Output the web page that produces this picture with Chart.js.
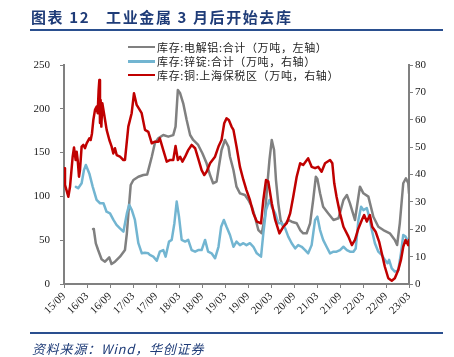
<!DOCTYPE html>
<html><head><meta charset="utf-8">
<script src="https://cdn.jsdelivr.net/npm/chart.js@4/dist/chart.umd.min.js"></script>
<style>
body{margin:0;background:#fff;}
#wrap{position:relative;width:454px;height:357px;overflow:hidden;}
#c{position:absolute;left:0;top:0;}
.abs{position:absolute;white-space:nowrap;}
.title{font-family:"Noto Sans CJK SC";font-weight:bold;font-size:15px;line-height:15px;color:#1f3c78;letter-spacing:1.6px;}
.rule{background:#2a4f8f;height:1.5px;left:30px;width:413px;}
.lg{font-family:"Noto Sans CJK SC";font-size:11px;line-height:14px;color:#222;letter-spacing:0.65px;}
.ln{height:2.5px;width:27px;left:128px;}
.foot{font-family:"Noto Sans CJK SC";font-style:italic;font-size:13px;line-height:14px;color:#1f3c78;letter-spacing:0.8px;}
</style></head>
<body>
<div id="wrap">
<canvas id="c" width="454" height="357" style="width:454px;height:357px"></canvas>
<div class="abs title" style="left:31px;top:9px;">图表 12<span style="display:inline-block;width:16px"></span>工业金属 3 月后开始去库</div>
<div class="abs rule" style="top:29px;"></div>
<div class="abs ln" style="top:45.5px;background:#808080"></div>
<div class="abs lg" style="left:157px;top:40px;">库存:电解铝:合计（万吨，左轴）</div>
<div class="abs ln" style="top:60px;background:#72b5d1"></div>
<div class="abs lg" style="left:157px;top:54px;">库存:锌锭:合计（万吨，右轴）</div>
<div class="abs ln" style="top:73.5px;background:#c00000"></div>
<div class="abs lg" style="left:157px;top:67.5px;">库存:铜:上海保税区（万吨，右轴）</div>
<div class="abs rule" style="top:332px;"></div>
<div class="abs foot" style="left:32px;top:342px;">资料来源：Wind，华创证券</div>
</div>
<script>
// x positions are months since 2015-09
const xTickLabels = ['15/09','16/03','16/09','17/03','17/09','18/03','18/09','19/03','19/09','20/03','20/09','21/03','21/09','22/03','22/09','23/03'];

const alX = [7.6,7.8,8.3,8.9,9.8,10.7,11.8,12.4,13.3,14.6,15.9,16.4,16.8,17.4,18.1,19.4,20.7,21.7,22.0,22.9,23.7,24.6,25.9,27.2,28.5,29.1,29.7,30.3,31.1,32.0,32.9,33.7,35.0,36.1,37.2,38.1,38.9,39.8,40.4,41.1,42.0,42.9,43.3,44.2,45.0,45.9,47.2,48.1,49.0,49.8,50.7,51.6,52.4,53.0,53.6,54.2,54.8,55.3,55.9,56.5,57.2,58.5,59.4,60.7,61.6,62.4,63.3,64.2,65.0,65.7,66.1,66.8,67.6,68.9,70.3,71.6,72.9,73.8,74.6,75.9,77.2,78.1,79.4,80.7,82.0,83.3,85.0,86.3,86.9,87.6,88.5,89.2,89.8,90.0];
const alY = [62.8,61.6,46.4,38.8,28.2,25.5,30.5,22.8,25.5,31.2,38.8,57.9,80.7,113,118.7,122.5,124.4,125,130,145.3,160.6,166.3,170.1,168.2,170,179.6,221.5,217.7,206.3,187.2,170.1,164.4,158.7,149.2,137.8,124.4,115,116.8,133.9,153,164.4,156.7,145.3,130.1,111.1,103.5,101.6,95.9,88.2,76.8,61.6,57.9,76.8,111.1,141.6,164.4,153,118.7,92.1,73.1,65.4,73.1,71.1,69.3,61.6,57.9,57.9,69.3,95.9,122.5,120,103.5,88.2,80.7,73.1,75,95.9,101.6,92.1,73.1,111.1,103.5,99.7,76.8,65.4,61.6,57.9,50.2,44.5,69.3,115,120.7,115,103.5];

const znX = [3.1,3.7,4.6,5.2,5.7,6.6,7.5,8.5,9.4,10.3,11.1,12.0,12.9,13.7,14.6,15.5,16.4,17.0,17.7,18.5,19.4,20.3,21.1,22.0,22.4,23.3,24.2,25.0,25.9,26.5,27.4,28.1,28.8,29.4,30.0,30.7,31.6,32.4,33.3,34.2,35.0,35.9,36.8,37.6,38.5,39.4,40.3,41.0,41.7,42.4,43.3,44.2,45.0,45.9,46.8,47.6,48.5,49.4,50.3,51.4,52.0,52.7,53.6,54.2,55.1,55.9,56.8,57.7,58.5,59.4,60.3,61.1,62.0,62.9,63.7,64.6,65.5,66.1,66.8,67.6,68.5,69.4,70.3,71.1,72.0,72.9,73.8,74.6,75.5,76.1,76.8,77.5,78.1,79.0,79.6,80.3,81.1,82.0,82.9,83.7,84.4,84.8,85.5,86.3,87.2,87.9,88.5,89.1,89.8];
const znY = [35.5,35,36.8,41.6,43.5,40.4,35.5,30.7,29.5,29.5,26.4,25.8,23.4,21.6,20.3,19.1,25.8,28.9,27,23.4,14.9,11.2,11.4,11.2,10.6,10,8.5,11.8,12.4,10,15.5,16.1,22.2,30.1,24.6,16.1,15.5,16.1,12.4,11.8,12.4,12.4,16.1,11.8,11.2,9.4,13.6,20.9,23.4,20.9,17.9,13.6,15.5,14.2,14.9,14.2,14.9,13.6,11.2,10,18.5,27,30.7,28.2,25.8,22.2,22.2,20.3,17.3,14.9,13,14.2,13.6,12.4,11.2,14.2,23.4,24.6,19.7,16.1,13.6,11.2,11.8,11.8,12.4,13.6,12.4,11.8,11.8,13,23.4,28.2,27,27.7,24.6,19.7,14.9,11.8,10.6,8.8,7.6,8.8,5.7,4.5,5.1,11.2,17.9,17.3,15.5];

const cuX = [0,0.26,1.13,1.57,2.26,2.61,3.04,3.3,3.57,3.91,4.17,4.6,5.04,5.48,5.91,6.61,6.96,7.3,7.65,8.09,8.52,8.78,9.04,9.22,9.39,9.56,9.74,10,10.43,11.13,11.83,12.43,12.87,13.3,13.74,14.61,15.48,15.91,16.78,17.65,18.26,18.96,20.26,21.13,22.0,22.9,23.7,24.6,25.0,25.9,26.8,27.7,28.5,29.1,29.7,30.3,30.9,31.6,32.4,33.3,34.2,35.0,35.9,36.6,37.2,38.1,39.4,40.3,41.1,41.8,42.4,43.0,43.7,44.2,45.0,45.9,46.8,47.6,48.5,49.4,50.3,51.4,52.0,52.7,53.3,54.2,55.1,56.2,57.2,58.1,59.0,59.8,60.7,61.6,62.4,63.7,64.6,65.5,66.3,67.2,68.1,69.4,70.0,70.5,71.1,72.0,72.9,74.2,75.1,75.9,76.8,77.7,78.3,79.0,79.8,80.4,81.3,82.2,82.9,83.7,84.6,85.5,86.3,87.2,87.9,88.5,89.1,89.8,90.0];
const cuY = [42.3,36.2,31.9,35.5,46.5,49.9,45.3,48.3,45.3,39.2,41.6,50.2,50.8,49.6,51.4,53.2,52.6,55,59.9,63.6,64.8,62.4,70.9,74.5,58.8,67.2,57.5,66,62.4,56.3,52.6,50.2,47.7,49.6,47.1,46.5,45.3,45.3,57.5,62.4,69.7,65.4,62.4,56.3,55.6,51.4,52,52,53.2,48.9,44.7,45.3,45.3,50.4,45.3,46.5,44.7,46.5,48.9,50.8,49.6,45.9,41.6,39.8,41,44.1,46.5,50.2,52.6,58.7,60.5,59.9,57.5,56.3,50.2,42.8,38,34.3,30.7,25.8,22.8,22.2,30.7,38,37.4,29.5,23.4,18.5,20.9,22.2,25.8,31.9,39.2,44.1,43.5,45.9,42.8,42.3,42.8,41,44.1,45.3,44.1,36.8,31.9,25.8,20.9,17.3,14.2,16.1,20.3,23.4,25.2,22.8,25.2,20.9,19.1,15.5,11.2,6.3,2.1,1.2,2.1,5.1,8.8,13.6,16.1,14.2,16.1];

const pts = (xs, ys) => xs.map((x, i) => ({x: x, y: ys[i]}));
const tickFont = {family: '"Liberation Serif"', size: 11};
const AX = '#808080';

new Chart(document.getElementById('c'), {
  type: 'line',
  data: {
    datasets: [
      {label: '库存:铜:上海保税区（万吨，右轴）', data: pts(cuX, cuY), yAxisID: 'y1', borderColor: '#c00000', borderWidth: 2.5, order: 0},
      {label: '库存:锌锭:合计（万吨，右轴）', data: pts(znX, znY), yAxisID: 'y1', borderColor: '#72b5d1', borderWidth: 2.5, order: 1},
      {label: '库存:电解铝:合计（万吨，左轴）', data: pts(alX, alY), yAxisID: 'y', borderColor: '#808080', borderWidth: 2.5, order: 2}
    ]
  },
  options: {
    responsive: false,
    animation: false,
    events: [],
    layout: {padding: {top: 65, left: 0, right: 0, bottom: 0}},
    elements: {point: {radius: 0}, line: {tension: 0, borderJoinStyle: 'round', borderCapStyle: 'round'}},
    plugins: {legend: {display: false}, tooltip: {enabled: false}},
    scales: {
      x: {
        type: 'linear', min: 0, max: 90,
        afterFit: s => { s.height = 73; },
        border: {color: AX, width: 2},
        grid: {drawOnChartArea: false, drawTicks: true, tickLength: 4, color: AX},
        ticks: {stepSize: 6, autoSkip: false, minRotation: 45, maxRotation: 45, color: '#222', font: tickFont, padding: 2,
          callback: v => { const i = Math.round(v / 6); return Math.abs(v - i * 6) < 1e-6 ? xTickLabels[i] : ''; }}
      },
      y: {
        position: 'left', min: 0, max: 250,
        afterFit: s => { s.width = 64; },
        border: {color: AX, width: 2},
        grid: {drawOnChartArea: false, drawTicks: true, tickLength: 4, color: AX},
        ticks: {stepSize: 50, color: '#222', font: tickFont, padding: 10}
      },
      y1: {
        position: 'right', min: 0, max: 80,
        afterFit: s => { s.width = 45; },
        border: {color: AX, width: 2},
        grid: {drawOnChartArea: false, drawTicks: true, tickLength: 4, color: AX},
        ticks: {stepSize: 10, color: '#222', font: tickFont, padding: 2}
      }
    }
  }
});
</script>
</body></html>
